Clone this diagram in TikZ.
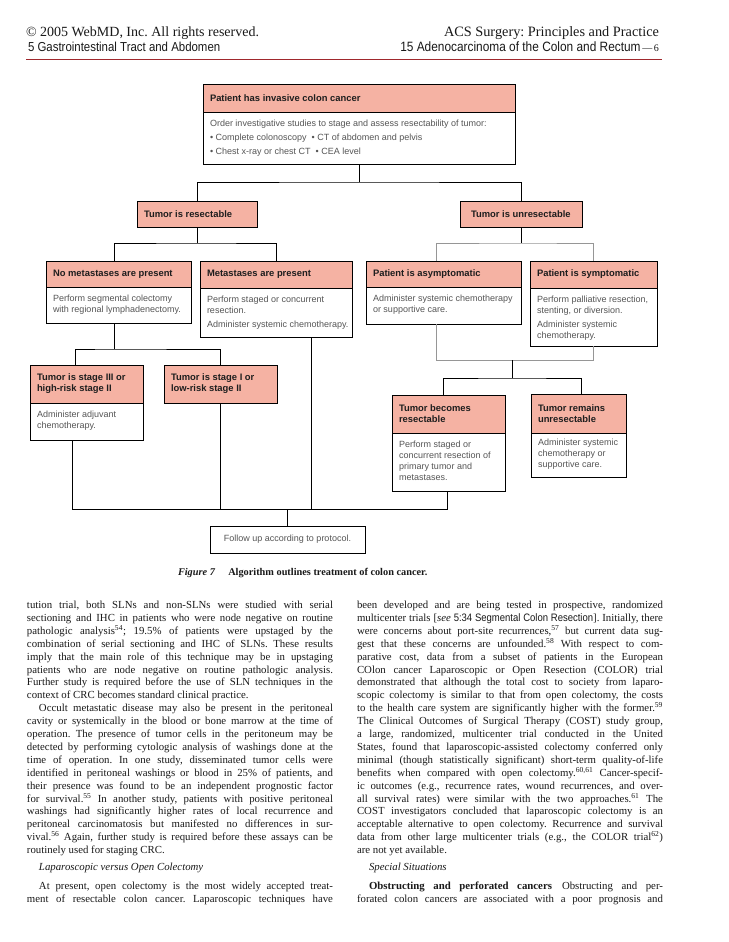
\documentclass[tikz,border=0pt]{standalone}
\usepackage{fontspec}
\setmainfont{Liberation Serif}
\newfontfamily\hsans{Liberation Sans}
\newfontfamily\csans[FakeStretch=0.88]{Liberation Sans}
\usetikzlibrary{calc}
\definecolor{hdrfill}{RGB}{245,178,163}
\definecolor{bodytext}{RGB}{85,85,85}
\definecolor{hdrtext}{RGB}{30,30,30}
\definecolor{rulered}{RGB}{160,40,45}
\definecolor{graylink}{RGB}{150,150,150}
\definecolor{pagetext}{RGB}{25,25,25}
\frenchspacing

\newcommand\JL[1]{\makebox[306pt][s]{#1}}
\newcommand\JI[1]{\hspace*{12pt}\makebox[294pt][s]{#1}}
\newcommand\LL[1]{\makebox[306pt][l]{#1}}
\newcommand\LI[1]{\hspace*{12pt}\makebox[294pt][l]{#1}}
\newcommand\sref[1]{\textsuperscript{#1}}

\tikzset{
  every node/.style={inner sep=0pt, outer sep=0pt},
  hdr/.style={draw=black, line width=1pt, fill=hdrfill, text=hdrtext,
    font=\hsans\bfseries\fontsize{9.4}{11}\selectfont},
  bdy/.style={draw=black, line width=1pt, fill=white, text=bodytext,
    font=\hsans\fontsize{9}{11}\selectfont},
  conn/.style={draw=black, line width=1pt},
  gconn/.style={draw=graylink, line width=1pt},
  pagefont/.style={text=pagetext},
}

% name, x, y, width, header height, body height, header text, body text
\newcommand{\flowbox}[8]{%
  \node[hdr, minimum width=#4pt, minimum height=#5pt, anchor=north west] (#1-h) at (#2,#3)
    {\parbox{\dimexpr#4pt-14pt\relax}{\raggedright #7}};
  \node[bdy, minimum width=#4pt, minimum height=#6pt, anchor=north] (#1-b) at (#1-h.south)
    {\parbox[c][#6pt][t]{\dimexpr#4pt-14pt\relax}{\raggedright\vspace*{8pt}#8}};
}

\begin{document}
\begin{tikzpicture}[x=1pt,y=-1pt]
\useasboundingbox (0,0) rectangle (728,942);
\fill[white] (0,0) rectangle (728,942);

% ---------- page header ----------
\node[pagefont, anchor=base west, font=\fontsize{14}{16}\selectfont] (cpr) at (26,37)
  {© 2005 WebMD, Inc. All rights reserved.};
\node[pagefont, anchor=base west, font=\csans\fontsize{13}{15}\selectfont] (sec) at (28,52)
  {5 Gastrointestinal Tract and Abdomen};
\node[pagefont, anchor=base east, font=\fontsize{14.3}{16}\selectfont] (book) at (659,37)
  {ACS Surgery: Principles and Practice};
\node[pagefont, anchor=base east] (chap) at (659,52)
  {{\csans\fontsize{13.5}{15}\selectfont 15 Adenocarcinoma of the Colon and Rectum}\,{\fontsize{10}{12}\selectfont —\,6}};
\draw[rulered, line width=0.9pt] (26,59) -- (662,59);

% ---------- flowchart boxes ----------
\flowbox{top}{203}{84}{312}{28}{52}{Patient has invasive colon cancer}
  {Order investigative studies to stage and assess resectability of tumor:\\[3pt]
   • Complete colonoscopy \ • CT of abdomen and pelvis\\[3pt]
   • Chest x-ray or chest CT \ • CEA level}

\node[hdr, minimum width=120pt, minimum height=26pt, anchor=north west] (res) at (137,201)
  {\parbox{106pt}{Tumor is resectable}};
\node[hdr, minimum width=122pt, minimum height=26pt, anchor=north west] (unres) at (460,201)
  {\parbox{104pt}{\hspace*{2pt}Tumor is unresectable}};

\flowbox{nomet}{46}{261}{145}{26}{36}{No metastases are present}
  {Perform segmental colectomy\\with regional lymphadenectomy.}
\flowbox{met}{200}{261}{152}{27}{49}{Metastases are present}
  {Perform staged or concurrent\\resection.\\[3pt]\mbox{Administer systemic chemotherapy.}}
\flowbox{asym}{366}{261}{155}{26}{37}{Patient is asymptomatic}
  {\mbox{Administer systemic chemotherapy}\\or supportive care.}
\flowbox{sym}{530}{261}{127}{27}{58}{Patient is symptomatic}
  {Perform palliative resection,\\stenting, or diversion.\\[3pt]Administer systemic\\chemotherapy.}

\flowbox{st3}{30}{365}{113}{38}{37}{Tumor is stage III or\\high-risk stage II}
  {Administer adjuvant\\chemotherapy.}
\node[hdr, minimum width=113pt, minimum height=38pt, anchor=north west] (st1) at (164,365)
  {\parbox{99pt}{Tumor is stage I or\\low-risk stage II}};

\flowbox{becomes}{392}{395}{113}{38}{58}{Tumor becomes\\resectable}
  {Perform staged or\\concurrent resection of\\primary tumor and\\metastases.}
\flowbox{remains}{531}{394}{95}{39}{44}{Tumor remains\\unresectable}
  {\vspace*{-2pt}Administer systemic\\chemotherapy or\\supportive care.}

\node[bdy, minimum width=155pt, minimum height=27pt, anchor=north west] (follow) at (210,526)
  {Follow up according to protocol.};

% ---------- connectors ----------
\coordinate (j1) at ($(top-b.south)+(0,18)$);
\draw[conn] (top-b.south) -- (j1);
\draw[conn] (res.north) |- (j1) -| (unres.north);

\coordinate (nmN) at ([xshift=-4.5pt]nomet-h.north);
\coordinate (j2) at ($(res.south)+(0,16)$);
\draw[conn] (res.south) -- (j2);
\draw[conn] (nmN) |- (j2) -| (met-h.north);

\coordinate (asN) at ([xshift=-7.5pt]asym-h.north);
\coordinate (j3) at ($(unres.south)+(0,16)$);
\draw[gconn] (asN) |- (j3) -| (sym-h.north);
\draw[conn] (unres.south) -- (j3);

\coordinate (nmS) at ([xshift=-4.5pt]nomet-b.south);
\coordinate (s3N) at ([xshift=-11.5pt]st3-h.north);
\coordinate (j4) at ($(nmS)+(0,26)$);
\draw[conn] (nmS) -- (j4);
\draw[conn] (s3N) |- (j4) -| (st1.north);

\coordinate (asS) at ([xshift=-7.5pt]asym-b.south);
\coordinate (j5) at ($(sym-b.south)+(0,14)$);
\draw[gconn] (asS) |- (j5) -- (sym-b.south);
\coordinate (bcN) at ([xshift=-5.5pt]becomes-h.north);
\coordinate (rmN) at ([xshift=2.5pt]remains-h.north);
\coordinate (j6) at ($(bcN)!0.5!(rmN)$);
\coordinate (j6t) at (j6 |- j5);
\coordinate (j7) at ($(j6t)+(0,18)$);
\draw[conn] (j6t) -- (j7);
\draw[conn] (bcN) |- (j7) -| (rmN);

\coordinate (j8) at ($(follow.north)+(0,-17)$);
\coordinate (s3S) at ([xshift=-14.5pt]st3-b.south);
\coordinate (mtS) at ([xshift=35pt]met-b.south);
\coordinate (bcS) at ([xshift=-1.5pt]becomes-b.south);
\draw[conn] (s3S) |- (j8);
\draw[conn] (bcS) |- (j8);
\draw[conn] (st1.south) -- (st1.south |- j8);
\draw[conn] (mtS) -- (mtS |- j8);
\draw[conn] (j8) -- (follow.north);

% ---------- caption ----------
\node[pagefont, anchor=base west, font=\fontsize{10.3}{12}\selectfont] (cap) at (178,575)
  {\textbf{\textit{Figure 7}}\hspace{13pt}\textbf{Algorithm outlines treatment of colon cancer.}};

% ---------- body text ----------
\node[pagefont, anchor=base west, font=\fontsize{10.8}{12.9}\selectfont] (colL) at (27,608.5)
 {\parbox[t]{306pt}{\setlength\parindent{0pt}%
 \JL{tution trial, both SLNs and non-SLNs were studied with serial}\par
 \JL{sectioning and IHC in patients who were node negative on routine}\par
 \JL{pathologic analysis\sref{54}; 19.5\% of patients were upstaged by the}\par
 \JL{combination of serial sectioning and IHC of SLNs. These results}\par
 \JL{imply that the main role of this technique may be in upstaging}\par
 \JL{patients who are node negative on routine pathologic analysis.}\par
 \JL{Further study is required before the use of SLN techniques in the}\par
 \LL{context of CRC becomes standard clinical practice.}\par
 \JI{Occult metastatic disease may also be present in the peritoneal}\par
 \JL{cavity or systemically in the blood or bone marrow at the time of}\par
 \JL{operation. The presence of tumor cells in the peritoneum may be}\par
 \JL{detected by performing cytologic analysis of washings done at the}\par
 \JL{time of operation. In one study, disseminated tumor cells were}\par
 \JL{identified in peritoneal washings or blood in 25\% of patients, and}\par
 \JL{their presence was found to be an independent prognostic factor}\par
 \JL{for survival.\sref{55} In another study, patients with positive peritoneal}\par
 \JL{washings had significantly higher rates of local recurrence and}\par
 \JL{peritoneal carcinomatosis but manifested no differences in sur-}\par
 \JL{vival.\sref{56} Again, further study is required before these assays can be}\par
 \LL{routinely used for staging CRC.}\par\vspace{4.1pt}
 \LI{\textit{Laparoscopic versus Open Colectomy}}\par\vspace{5.6pt}
 \JI{At present, open colectomy is the most widely accepted treat-}\par
 \JL{ment of resectable colon cancer. Laparoscopic techniques have}\par
 }};

\node[pagefont, anchor=base west, font=\fontsize{10.8}{12.9}\selectfont] (colR) at (357,608.5)
 {\parbox[t]{306pt}{\setlength\parindent{0pt}%
 \JL{been developed and are being tested in prospective, randomized}\par
 \JL{multicenter trials [\textit{see} {\csans 5:34 Segmental Colon Resection}]. Initially, there}\par
 \JL{were concerns about port-site recurrences,\sref{57} but current data sug-}\par
 \JL{gest that these concerns are unfounded.\sref{58} With respect to com-}\par
 \JL{parative cost, data from a subset of patients in the European}\par
 \JL{COlon cancer Laparoscopic or Open Resection (COLOR) trial}\par
 \JL{demonstrated that although the total cost to society from laparo-}\par
 \JL{scopic colectomy is similar to that from open colectomy, the costs}\par
 \JL{to the health care system are significantly higher with the former.\sref{59}}\par
 \JL{The Clinical Outcomes of Surgical Therapy (COST) study group,}\par
 \JL{a large, randomized, multicenter trial conducted in the United}\par
 \JL{States, found that laparoscopic-assisted colectomy conferred only}\par
 \JL{minimal (though statistically significant) short-term quality-of-life}\par
 \JL{benefits when compared with open colectomy.\sref{60,61} Cancer-specif-}\par
 \JL{ic outcomes (e.g., recurrence rates, wound recurrences, and over-}\par
 \JL{all survival rates) were similar with the two approaches.\sref{61} The}\par
 \JL{COST investigators concluded that laparoscopic colectomy is an}\par
 \JL{acceptable alternative to open colectomy. Recurrence and survival}\par
 \JL{data from other large multicenter trials (e.g., the COLOR trial\sref{62})}\par
 \LL{are not yet available.}\par\vspace{4.1pt}
 \LI{\textit{Special Situations}}\par\vspace{5.6pt}
 \JI{\textbf{Obstructing and perforated cancers}\hspace{10pt}Obstructing and per-}\par
 \JL{forated colon cancers are associated with a poor prognosis and}\par
 }};
\end{tikzpicture}
\end{document}
